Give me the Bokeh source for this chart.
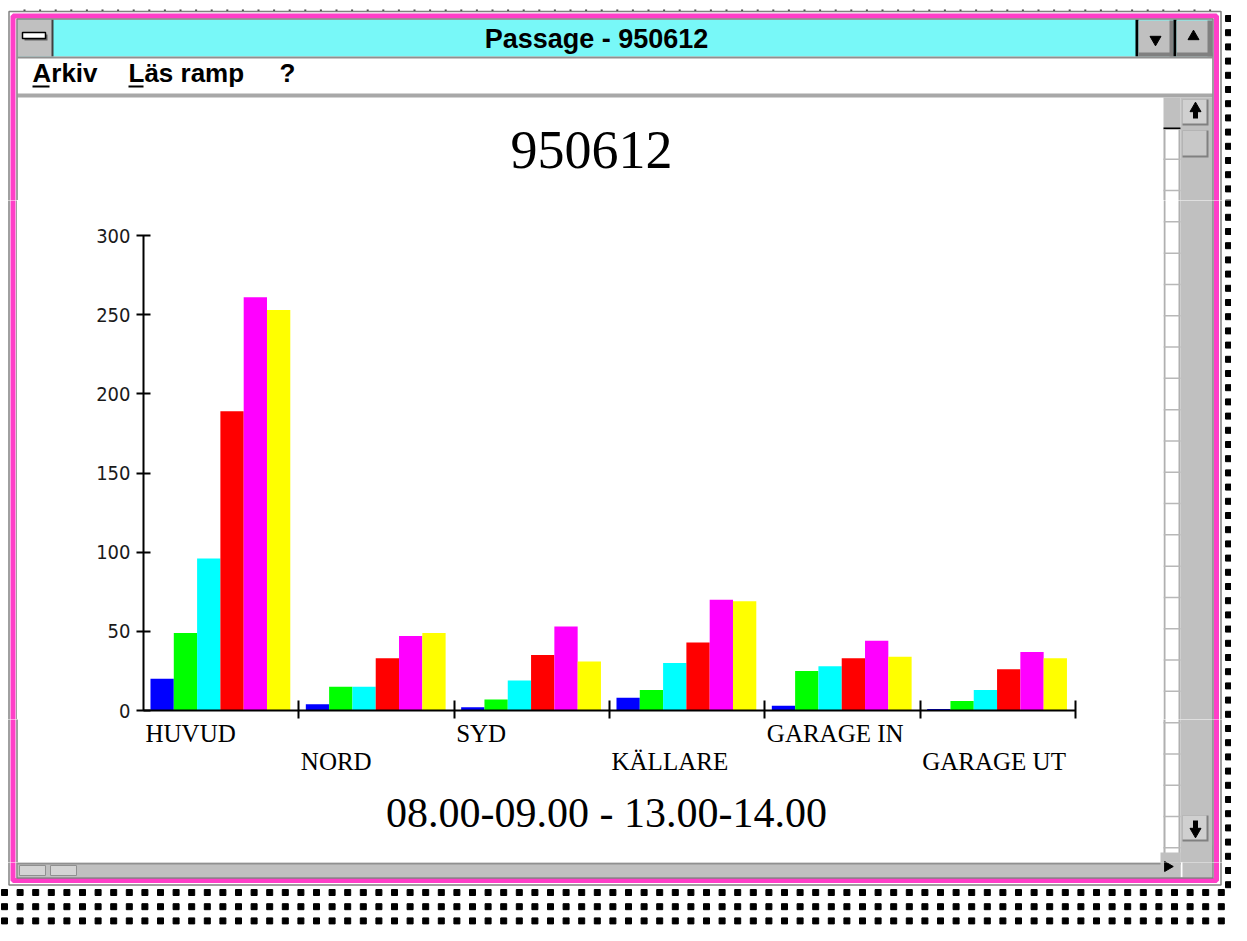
import numpy as np
from bokeh.plotting import figure
from bokeh.layouts import column, row
from bokeh.models import Range1d, FixedTicker
from bokeh.core.properties import value
from bokeh.embed import file_html
from bokeh.resources import INLINE

# ---------------- data ----------------
chart_title = "950612"
subtitle = "08.00-09.00 - 13.00-14.00"
window_title = "Passage - 950612"
menu_items = ["Arkiv", "Läs ramp", "?"]
categories = ["HUVUD", "NORD", "SYD", "KÄLLARE", "GARAGE IN", "GARAGE UT"]
series_blue = [20, 4, 2, 8, 3, 1]
series_green = [49, 15, 7, 13, 25, 6]
series_cyan = [96, 15, 19, 30, 28, 13]
series_red = [189, 33, 35, 43, 33, 26]
series_magenta = [261, 47, 53, 70, 44, 37]
series_yellow = [253, 49, 31, 69, 34, 33]
y_ticks = [0, 50, 100, 150, 200, 250, 300]

series = [series_blue, series_green, series_cyan, series_red, series_magenta, series_yellow]
colors = ["#0000FF", "#00FF00", "#00FFFF", "#FF0000", "#FF00FF", "#FFFF00"]

W, H = 1231, 925
TOP_H, MID_B, LAB_B = 200, 719, 862     # row boundaries (canvas px)
CL, CR = 17, 1163                       # chart figure left / right
FL, FR, FT, FB = 143, 1075, 235, 710    # chart frame edges

def base(**kw):
    f = figure(output_backend="svg", toolbar_location=None, frame_align=False, **kw)
    f.outline_line_color = None
    f.grid.visible = False
    f.background_fill_color = "white"
    f.border_fill_color = "white"
    return f

# ---------------- chart figure ----------------
xr = Range1d(0, len(categories))
p = base(width=CR - CL, height=MID_B - TOP_H, x_range=xr, y_range=Range1d(0, 300),
         min_border_left=FL - CL, min_border_right=CR - FR,
         min_border_top=FT - TOP_H, min_border_bottom=MID_B - FB)

bw = 0.15
start = 0.045
for j, (vals, col) in enumerate(zip(series, colors)):
    xs = [i + start + bw * (j + 0.5) for i in range(len(categories))]
    p.vbar(x=xs, top=vals, bottom=0, width=bw, fill_color=col, line_color=None)

p.yaxis.ticker = FixedTicker(ticks=y_ticks)
p.yaxis.axis_line_width = 2
p.yaxis.major_tick_line_width = 2
p.yaxis.major_tick_in = 7
p.yaxis.major_tick_out = 7
p.yaxis.minor_tick_line_color = None
p.yaxis.major_label_text_font = "DejaVu Sans Condensed"
p.yaxis.major_label_text_font_size = "20px"
p.yaxis.major_label_text_color = "#1a1a1a"
p.yaxis.major_label_standoff = 6

xa = p.xaxis[0]
xa.ticker = FixedTicker(ticks=list(range(1, len(categories) + 1)))
xa.axis_line_width = 2
xa.major_tick_line_width = 2
xa.major_tick_in = 10
xa.major_tick_out = 8
xa.minor_tick_line_color = None
xa.major_label_overrides = {i: "" for i in range(1, len(categories) + 1)}
xa.major_label_text_font_size = "1px"
xa.major_label_standoff = 0

# ---------------- category labels + subtitle (shares the chart's x scale) ----------------
labels_fig = base(width=FR - FL, height=LAB_B - MID_B, x_range=xr, y_range=Range1d(LAB_B, MID_B),
                  x_axis_location=None, y_axis_location=None, min_border=0)
labels_fig.extra_x_ranges = {"px": Range1d(FL, FR)}

def mid(baseline, size, k=0.35):
    return baseline - k * size

labels_fig.text(x=list(range(len(categories))),
                y=[mid(742, 25) if i % 2 == 0 else mid(770, 25) for i in range(len(categories))],
                text=categories, x_offset=2,
                text_font=value("Liberation Serif"), text_font_size=value("25px"),
                text_align=value("left"), text_baseline=value("middle"), text_color=value("black"))
labels_fig.text(x=[606], y=[mid(827, 42)], text=[subtitle], x_range_name="px",
                text_font=value("Liberation Serif"), text_font_size=value("42px"),
                text_align=value("center"), text_baseline=value("middle"), text_color=value("black"))

# ---------------- window chrome: figures in canvas-pixel coordinates ----------------
def chrome(x0, x1, y0, y1):
    return base(width=x1 - x0, height=y1 - y0, x_range=Range1d(x0, x1), y_range=Range1d(y1, y0),
                x_axis_location=None, y_axis_location=None, min_border=0)

top = chrome(0, W, 0, TOP_H)
left1 = chrome(0, CL, TOP_H, MID_B)
right1 = chrome(CR, W, TOP_H, MID_B)
left2 = chrome(0, FL, MID_B, LAB_B)
right2 = chrome(FR, W, MID_B, LAB_B)
bottom = chrome(0, W, LAB_B, H)
chromes = [top, left1, right1, left2, right2, bottom]

def box(l, t, r, b, fill=None, line=None, lw=1):
    for f in chromes:
        f.quad(left=[l], right=[r], top=[t], bottom=[b],
               fill_color=fill, fill_alpha=1 if fill else 0, line_color=line, line_width=lw)

def txt(f, x, y, s, size, font="Liberation Sans", style="normal", align="left"):
    f.text(x=[x], y=[mid(y, size)], text=[s], text_font=value(font), text_font_size=value(f"{size}px"),
           text_font_style=value(style), text_align=value(align),
           text_baseline=value("middle"), text_color=value("black"))

def mark(x, y, marker, size, color="black", angle=0.0):
    for f in chromes:
        f.scatter(x=[x], y=[y], marker=marker, size=size, fill_color=color, line_color=color, angle=angle)

# desktop pattern
px = np.arange(4, W, 15.6)
py = np.arange(892, H + 10, 14.2)
gx, gy = np.meshgrid(px, py)
side_y = np.arange(18, 892, 14.2)
pat_x = list(gx.ravel()) + [1228.0] * len(side_y)
pat_y = list(gy.ravel()) + list(side_y)
for f in chromes:
    f.scatter(x=pat_x, y=pat_y, marker="square", size=6, fill_color="black", line_color="black")
dots = list(np.arange(24, 1220, 15.6))
top.scatter(x=dots, y=[10] * len(dots), marker="square", size=2, fill_color="#404040", line_color=None)

# title bar
box(17, 19, 1212, 56, fill="#78f8f8")
box(17, 19, 52, 56, fill="#c0c0c0")
box(51, 19, 53, 56, fill="#404040")
box(24, 34, 47, 40, fill="#606060")
box(22, 32, 45, 38, fill="white", line="black", lw=1.5)
box(1135, 19, 1138, 56, fill="black")
box(1138, 20, 1173, 56, fill="#c0c0c0")
box(1169, 20, 1173, 56, fill="#808080")
box(1138, 52, 1173, 56, fill="#808080")
box(1173, 19, 1176, 56, fill="black")
box(1176, 20, 1212, 56, fill="#c0c0c0")
box(1207, 20, 1212, 56, fill="#808080")
box(1176, 52, 1212, 56, fill="#808080")
mark(1155, 39, "inverted_triangle", 11)
mark(1193, 36, "triangle", 11)
txt(top, 596, 48, window_title, 27, style="bold", align="center")
box(17, 56, 1212, 58, fill="#909090")

# menu bar
txt(top, 32, 82, menu_items[0], 26, style="bold")
txt(top, 128, 82, menu_items[1], 26, style="bold")
txt(top, 279, 82, menu_items[2], 26, style="bold")
box(32, 85, 49, 87, fill="black")
box(128, 85, 143, 87, fill="black")
box(17, 93, 1212, 97, fill="#a8a8a8")

# chart title
txt(top, 591, 168, chart_title, 54, font="Liberation Serif", align="center")

# vertical scrollbar
box(1180, 97, 1212, 862, fill="#c0c0c0")
box(1163, 97, 1180, 128, fill="#c0c0c0")
box(1163, 127, 1180, 129, fill="black")
box(1163, 129, 1180, 862, fill="white")
box(1163, 129, 1165, 862, fill="#b0b0b0")
box(1178, 129, 1180, 862, fill="#b0b0b0")
for yy in np.arange(158, 862, 31.3):
    box(1163, yy, 1180, yy + 1.5, fill="#b8b8b8")
box(1182, 99, 1208, 125, fill="#808080")
box(1182, 99, 1206, 123, fill="#d0d0d0")
mark(1195, 108, "triangle", 11)
box(1192.5, 110, 1197.5, 118, fill="black")
box(1182, 130, 1208, 157, fill="#808080")
box(1182, 130, 1206, 155, fill="#c8c8c8")
box(1182, 815, 1208, 841, fill="#808080")
box(1182, 815, 1206, 839, fill="#d0d0d0")
box(1192.5, 820, 1197.5, 828, fill="black")
mark(1195, 831, "inverted_triangle", 11)

# horizontal scrollbar
box(17, 862, 1180, 877, fill="#c0c0c0")
box(17, 862, 1180, 864, fill="#909090")
box(19, 865, 45, 875, fill="#d4d4d4", line="#909090", lw=1)
box(50, 865, 76, 875, fill="#d4d4d4", line="#909090", lw=1)
box(1160, 852, 1180, 877, fill="#c0c0c0")
mark(1167, 866, "triangle", 10, angle=-np.pi / 2)
box(1182, 845, 1212, 877, fill="#c0c0c0")

# window frame
box(8.5, 11, 1220.5, 884.5, line="#808080", lw=1.5)
box(12.5, 15.5, 1216, 880, line="#ff3fc8", lw=5)
box(16.5, 18.5, 1212.5, 877.5, line="#808080", lw=1.5)

layout = column(top, row(left1, p, right1), row(left2, labels_fig, right2), bottom)
open("out.html", "w").write(file_html(layout, INLINE))
